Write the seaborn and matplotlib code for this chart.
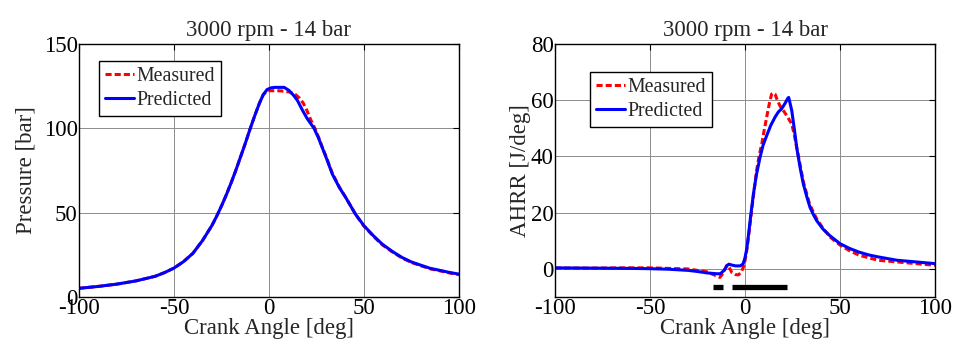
import matplotlib
matplotlib.use("Agg")
import matplotlib.pyplot as plt
import seaborn as sns
import pandas as pd

# ---- data ----
p_ca_pred = [-100, -90, -80, -70, -60, -55, -50, -45, -40, -35, -30, -27.5, -25, -22.5, -20, -17.5, -15, -12.5, -10, -7.5, -5, -3, -1, 1, 3, 8, 10.5, 13, 15, 17.5, 20, 23.7, 26, 28, 30.5, 33.3, 37, 40.4, 43, 45.6, 50, 55, 59.6, 65, 70, 75, 80.7, 85, 91, 95, 100]
p_pred = [5.2, 6.3, 7.7, 9.6, 12.3, 14.5, 17.2, 21, 26, 33.5, 42.5, 48, 54, 60.5, 67.5, 75, 83, 91, 99.5, 107.5, 115, 120, 123, 124, 124.3, 124.3, 122.5, 119.5, 116.5, 111, 106, 100, 94.5, 88.7, 81.5, 73, 65, 59, 54, 49, 42.3, 36.3, 31.4, 27, 23.5, 20.8, 18.6, 17, 15.6, 14.6, 13.6]
p_ca_meas = [-100, -90, -80, -70, -60, -55, -50, -45, -40, -35, -30, -27.5, -25, -22.5, -20, -17.5, -15, -12.5, -10, -7.5, -5, -3, -1, 0, 5, 8, 11, 14, 16, 18, 20, 22, 24, 26, 28, 30.5, 33.3, 37, 40.4, 43, 45.6, 50, 55, 59.6, 65, 70, 75, 80.7, 85, 91, 95, 100]
p_meas = [5.2, 6.3, 7.7, 9.6, 12.3, 14.5, 17.2, 21, 26, 33.5, 42.5, 48, 54, 60.5, 67.5, 75, 83, 91, 99.5, 107.5, 115, 120, 122, 122.3, 122.3, 122, 121.5, 120, 118, 115, 110.5, 105, 100.5, 95, 89, 82, 73.5, 65.3, 59, 54, 49, 42, 36, 31, 26.7, 23.2, 20.5, 18.3, 16.7, 15.3, 14.3, 13.3]

h_ca_pred = [-100, -80, -60, -50, -40, -30, -25, -20, -15, -13, -11, -9.5, -8.5, -7, -5, -2.5, -1, 0, 1, 2, 3, 4.4, 6, 7.9, 9.5, 11.4, 13.5, 15.8, 17.5, 19.3, 21, 22.5, 23, 24.6, 26, 27.2, 29, 30.7, 32.5, 34.2, 36, 37.7, 41, 44.7, 50, 55, 60, 65, 70, 80, 90, 100]
h_pred = [0.4, 0.3, 0.2, 0.1, -0.1, -0.5, -0.9, -1.4, -1.7, -1.7, -0.5, 1.2, 1.7, 1.4, 1.1, 1.1, 1.8, 4, 7.5, 13, 19, 26.6, 33.5, 39.7, 44, 47.4, 51, 54, 55.8, 57, 58.8, 60.7, 61, 56.3, 49.5, 43.2, 36, 30.2, 25.7, 21.9, 19.3, 17.2, 14.2, 11.8, 9, 7.3, 6, 5, 4.3, 3.1, 2.5, 1.9]
h_ca_meas = [-100, -80, -60, -50, -40, -30, -25, -20, -16, -13.2, -11.5, -9.65, -8.5, -7, -5, -3.5, -2, -0.9, 0, 0.9, 2.2, 3.5, 4.8, 6.1, 7.5, 8.8, 10, 11.4, 12.7, 14, 15, 15.8, 17, 18.4, 20, 22, 24.6, 26, 27.2, 29, 30.7, 34, 37.7, 41, 45, 50, 55, 60, 70, 80, 90, 100]
h_meas = [0.3, 0.3, 0.4, 0.4, 0.2, 0, -0.5, -1, -2.2, -3, -1.5, 1.2, 0.8, -1.2, -2, -2.1, -1.2, 0.6, 3, 6.5, 13.5, 20.7, 28, 35, 40.5, 44.4, 49, 54, 58.5, 62.2, 62.6, 62.2, 60, 58, 56.5, 54.5, 51.5, 47.5, 43.2, 37, 31, 23, 17.8, 14.5, 11.2, 8.5, 6.5, 4.9, 3.1, 2.5, 1.9, 1.3]

bar_start = [-16.7, -6.7]
bar_end = [-11.8, 21.9]
bar_level = -6.4

title_text = "3000 rpm - 14 bar"

sns.set_theme(style="white")
plt.rcParams['font.family'] = ['Liberation Serif', 'DejaVu Serif']
plt.rcParams['axes.unicode_minus'] = False

fig = plt.figure(figsize=(9.61, 3.52), dpi=100)
ax1 = fig.add_axes([0.0822, 0.156, 0.3954, 0.719])
ax2 = fig.add_axes([0.5775, 0.156, 0.3955, 0.719])

FS = 16.5

def style(ax, ylim, yticks, ylabel, lpad):
    ax.set_xlim(-100, 100)
    ax.set_ylim(*ylim)
    ax.set_xticks([-100, -50, 0, 50, 100])
    ax.set_yticks(yticks)
    ax.grid(True, color="#8c8c8c", linewidth=0.7)
    ax.set_axisbelow(True)
    for s in ax.spines.values():
        s.set_color("black")
        s.set_linewidth(1.0)
    ax.tick_params(direction="in", top=True, right=True, length=4, width=0.8,
                   labelsize=FS, colors="black", pad=1)
    ax.set_xlabel("Crank Angle [deg]", fontsize=FS, labelpad=-1)
    ax.set_ylabel(ylabel, fontsize=FS, labelpad=lpad)
    ax.set_title(title_text, fontsize=16.5, pad=6)

LW = 2.2
DASH = (2.0, 1.0)

df_p_meas = pd.DataFrame({"ca": p_ca_meas, "v": p_meas})
df_p_pred = pd.DataFrame({"ca": p_ca_pred, "v": p_pred})
df_h_meas = pd.DataFrame({"ca": h_ca_meas, "v": h_meas})
df_h_pred = pd.DataFrame({"ca": h_ca_pred, "v": h_pred})

sns.lineplot(data=df_p_meas, x="ca", y="v", ax=ax1, color="red", linewidth=LW, label="Measured").lines[-1].set_dashes(DASH)
sns.lineplot(data=df_p_pred, x="ca", y="v", ax=ax1, color="blue", linewidth=LW, label="Predicted")
style(ax1, (0, 150), [0, 50, 100, 150], "Pressure [bar]", 5)

sns.lineplot(data=df_h_meas, x="ca", y="v", ax=ax2, color="red", linewidth=LW, label="Measured").lines[-1].set_dashes(DASH)
sns.lineplot(data=df_h_pred, x="ca", y="v", ax=ax2, color="blue", linewidth=LW, label="Predicted")
for s0, s1 in zip(bar_start, bar_end):
    ax2.plot([s0, s1], [bar_level, bar_level], color="black", linewidth=3.8, solid_capstyle="butt")
style(ax2, (-10, 80), [0, 20, 40, 60, 80], "AHRR [J/deg]", 0)

for ax, anchor in [(ax1, (0.053, 0.933)), (ax2, (0.092, 0.889))]:
    leg = ax.legend(loc="upper left", bbox_to_anchor=anchor, fontsize=14.3, frameon=True,
                    fancybox=False, edgecolor="black", handlelength=1.45, handletextpad=0.15,
                    borderpad=0.3, labelspacing=0.25, borderaxespad=0, framealpha=1)
    leg.get_frame().set_linewidth(1.0)
    leg.get_lines()[0].set_dashes(DASH)

fig.savefig("out.png", dpi=100)
